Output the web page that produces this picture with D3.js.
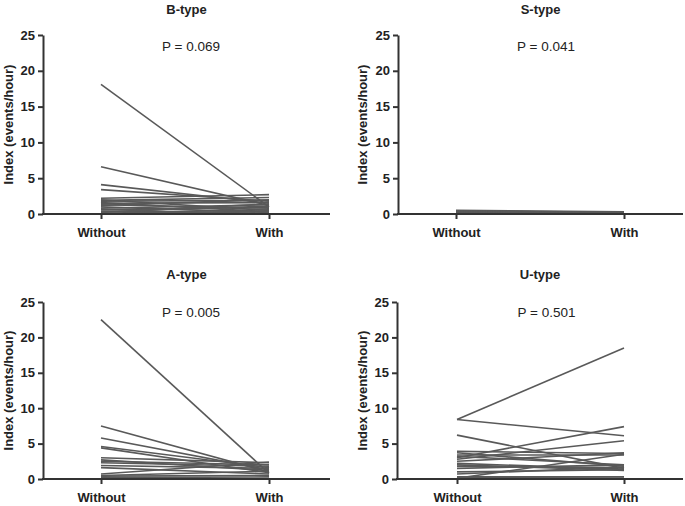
<!DOCTYPE html>
<html><head><meta charset="utf-8">
<script src="https://cdn.jsdelivr.net/npm/d3@7"></script>
<style>body{margin:0;background:#fff}svg{display:block}text{font-family:"Liberation Sans",Arial,sans-serif}</style>
</head><body><svg id="c" width="685" height="506"></svg>
<script>
const categories = ["Without", "With"];
const yTicks = [0, 5, 10, 15, 20, 25];
const panelTitles = ["B-type", "S-type", "A-type", "U-type"];
const pValues = ["P = 0.069", "P = 0.041", "P = 0.005", "P = 0.501"];

const bWithout = [18.1, 6.6, 4.1, 3.4, 2.2, 2.0, 1.9, 1.8, 1.6, 1.5, 1.3, 1.2, 1.0, 0.8, 0.6, 0.4, 0.3, 0.1, 0.0, 0.2];
const bWith    = [1.0, 1.2, 1.5, 1.8, 2.7, 0.5, 2.3, 1.9, 0.3, 1.6, 0.8, 2.0, 0.2, 1.3, 0.9, 0.1, 1.1, 0.6, 0.4, 1.4];

const sWithout = [0.5, 0.45, 0.4, 0.35, 0.3, 0.25, 0.2, 0.15, 0.1, 0.05];
const sWith    = [0.3, 0.25, 0.2, 0.2, 0.15, 0.1, 0.1, 0.05, 0.0, 0.0];

const aWithout = [22.5, 7.5, 5.8, 4.6, 4.4, 3.0, 2.7, 2.5, 2.3, 1.9, 1.6, 0.7, 0.5, 0.4, 0.2, 0.1];
const aWith    = [0.8, 1.0, 1.3, 1.6, 0.9, 2.3, 1.2, 2.0, 1.8, 1.5, 0.7, 2.4, 1.1, 0.5, 0.3, 0.0];

const uWithout = [8.4, 8.4, 6.2, 3.0, 2.8, 3.9, 3.7, 3.4, 3.2, 2.5, 2.2, 2.0, 1.8, 1.5, 1.0, 0.7, 0.3, 0.1, 0.2];
const uWith    = [18.5, 6.1, 1.5, 7.4, 5.4, 3.6, 1.8, 3.4, 2.0, 3.7, 1.4, 1.2, 1.6, 2.0, 1.3, 1.7, 0.3, 3.5, 0.1];

const panels = [
  {title: panelTitles[0], p: pValues[0], w: bWithout, wi: bWith, ax: 43, x0: 101, x1: 269, xe: 330, yt: 35, yb: 214, ty: 9, py: 46, yl: 8},
  {title: panelTitles[1], p: pValues[1], w: sWithout, wi: sWith, ax: 398, x0: 456, x1: 624, xe: 683, yt: 35, yb: 214, ty: 9, py: 46, yl: 362},
  {title: panelTitles[2], p: pValues[2], w: aWithout, wi: aWith, ax: 43, x0: 101, x1: 269, xe: 330, yt: 302, yb: 479, ty: 274, py: 312, yl: 8},
  {title: panelTitles[3], p: pValues[3], w: uWithout, wi: uWith, ax: 397, x0: 457, x1: 624, xe: 683, yt: 302, yb: 479, ty: 274, py: 312, yl: 362}
];

const svg = d3.select("#c");
const axisColor = "#333";
const lineColor = "#595959";

panels.forEach(P => {
  const g = svg.append("g");
  const x = d3.scalePoint().domain(categories).range([P.x0, P.x1]);
  const y = d3.scaleLinear().domain([0, 25]).range([P.yb, P.yt]);

  // data lines
  const pairs = P.w.map((v, i) => [{c: categories[0], v: v}, {c: categories[1], v: P.wi[i]}]);
  const line = d3.line().x(d => x(d.c)).y(d => y(d.v));
  g.selectAll("path.pair").data(pairs).join("path")
    .attr("class", "pair").attr("d", line)
    .attr("fill", "none").attr("stroke", lineColor).attr("stroke-width", 1.6);

  // y axis
  const ya = d3.axisLeft(y).tickValues(yTicks).tickSize(5).tickPadding(3).tickSizeOuter(0);
  const yg = g.append("g").attr("transform", `translate(${P.ax},0)`).call(ya);
  yg.select(".domain").attr("stroke", axisColor).attr("stroke-width", 2);
  yg.selectAll(".tick line").attr("stroke", axisColor).attr("stroke-width", 2);
  yg.selectAll(".tick text").attr("fill", "#222").style("font-size", "13px").style("font-weight", "bold")
    .style("font-family", '"Liberation Sans", Arial, sans-serif');

  // x axis
  const xa = d3.axisBottom(x).tickSize(5).tickPadding(9).tickSizeOuter(0);
  const xg = g.append("g").attr("transform", `translate(0,${P.yb})`).call(xa);
  xg.select(".domain").attr("d", `M${P.ax - 1},0H${P.xe}`).attr("stroke", axisColor).attr("stroke-width", 2);
  xg.selectAll(".tick line").attr("stroke", axisColor).attr("stroke-width", 2);
  xg.selectAll(".tick text").attr("fill", "#222").style("font-size", "13px").style("font-weight", "bold")
    .style("font-family", '"Liberation Sans", Arial, sans-serif');

  // title
  g.append("text").attr("x", (P.ax + P.xe) / 2 + 0).attr("y", P.ty).attr("dy", "0.35em")
    .attr("text-anchor", "middle").style("font-size", "13px").style("font-weight", "bold").attr("fill", "#222")
    .text(P.title);

  // p value
  g.append("text").attr("x", (P.x0 + P.x1) / 2 + 6).attr("y", P.py).attr("dy", "0.35em")
    .attr("text-anchor", "middle").style("font-size", "13.5px").attr("fill", "#222")
    .text(P.p);

  // y label
  g.append("text").attr("transform", `translate(${P.yl},${(P.yt + P.yb) / 2}) rotate(-90)`)
    .attr("dy", "0.35em").attr("text-anchor", "middle")
    .style("font-size", "13px").style("font-weight", "bold").attr("fill", "#222")
    .text("Index (events/hour)");
});
</script></body></html>
